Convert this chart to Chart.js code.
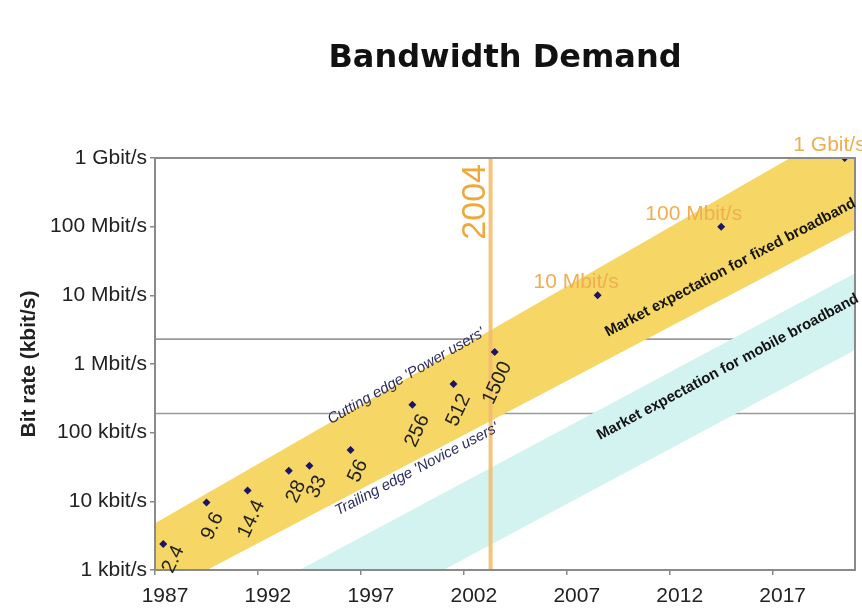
<!DOCTYPE html>
<html>
<head>
<meta charset="utf-8">
<script src="https://cdn.jsdelivr.net/npm/chart.js@4.4.1/dist/chart.umd.min.js"></script>
<style>
  html, body { margin: 0; padding: 0; background: #fff; }
</style>
</head>
<body>
<canvas id="myChart" width="862" height="616"></canvas>
<script>
// axes
const xTicks = [1987, 1992, 1997, 2002, 2007, 2012, 2017]
const yTicks = [1, 10, 100, 1000, 10000, 100000, 1000000]
const yTickLabels = ['1 kbit/s', '10 kbit/s', '100 kbit/s', '1 Mbit/s', '10 Mbit/s', '100 Mbit/s', '1 Gbit/s']

// modems (kbit/s)
const modemYears = [1987.4, 1989.5, 1991.5, 1993.5, 1994.5, 1996.5, 1999.5, 2001.5, 2003.5]
const modemRates = [2.4, 9.6, 14.4, 28, 33, 56, 256, 512, 1500]
const modemLabels = ['2.4', '9.6', '14.4', '28', '33', '56', '256', '512', '1500']

// paliers futurs
const milestoneYears = [2008.5, 2014.5, 2020.5]
const milestoneRates = [10000, 100000, 1000000]
const milestoneLabels = ['10 Mbit/s', '100 Mbit/s', '1 Gbit/s']

// bandes (bords, en debut et fin d'axe)
const bandYears = [1987, 2021]
const fixedTop = [4.8, 3500000]
const fixedBottom = [0.4, 91000]
const mobileTop = [0.075, 21000]
const mobileBottom = [0.0057, 1600]

const refLevels = [2300, 190]
const markerYear = 2003.3
const markerLabel = '2004'

const pts = (xs, ys) => xs.map((x, i) => ({ x: x, y: ys[i] }))

const datasets = [
  { label: 'modems', data: pts(modemYears, modemRates), order: 0,
    pointStyle: 'rectRot', pointRadius: 4, backgroundColor: '#1c1464', borderColor: '#1c1464', borderWidth: 0 },
  { label: 'milestones', data: pts(milestoneYears, milestoneRates), order: 0,
    pointStyle: 'rectRot', pointRadius: 4, backgroundColor: '#1c1464', borderColor: '#1c1464', borderWidth: 0 },
  { label: 'marker', data: [{ x: markerYear, y: 1 }, { x: markerYear, y: 1000000 }], order: 1,
    showLine: true, pointRadius: 0, borderColor: 'rgba(242,190,110,0.9)', borderWidth: 4 },
  { label: 'fixedTop', data: pts(bandYears, fixedTop), order: 3, showLine: true, pointRadius: 0,
    borderWidth: 0, borderColor: 'rgba(0,0,0,0)', fill: '+1', backgroundColor: '#f6d765' },
  { label: 'fixedBottom', data: pts(bandYears, fixedBottom), order: 3, showLine: true, pointRadius: 0,
    borderWidth: 0, borderColor: 'rgba(0,0,0,0)' },
  { label: 'mobileTop', data: pts(bandYears, mobileTop), order: 3, showLine: true, pointRadius: 0,
    borderWidth: 0, borderColor: 'rgba(0,0,0,0)', fill: '+1', backgroundColor: '#d3f3f1' },
  { label: 'mobileBottom', data: pts(bandYears, mobileBottom), order: 3, showLine: true, pointRadius: 0,
    borderWidth: 0, borderColor: 'rgba(0,0,0,0)' },
]
refLevels.forEach(v => {
  datasets.push({ label: 'ref', data: [{ x: bandYears[0], y: v }, { x: bandYears[1], y: v }], order: 5,
    showLine: true, pointRadius: 0, borderColor: '#9a9a9a', borderWidth: 1.6 })
})

// texte le long d'un bord de bande
function edgeText(chart, vals, startYear, offset, text, font, color, baseline) {
  const { ctx, scales: { x, y } } = chart
  const x0 = x.getPixelForValue(bandYears[0]), y0 = y.getPixelForValue(vals[0])
  const x1 = x.getPixelForValue(bandYears[1]), y1 = y.getPixelForValue(vals[1])
  const ang = Math.atan2(y1 - y0, x1 - x0)
  const px = x.getPixelForValue(startYear)
  const py = y0 + (px - x0) * (y1 - y0) / (x1 - x0)
  ctx.save()
  ctx.translate(px, py)
  ctx.rotate(ang)
  ctx.font = font
  ctx.fillStyle = color
  ctx.textAlign = 'left'
  ctx.textBaseline = baseline
  ctx.fillText(text, 0, offset)
  ctx.restore()
}

const decor = {
  id: 'decor',
  afterDatasetsDraw(chart) {
    const { ctx, chartArea: a, scales: { x, y } } = chart
    ctx.save()
    ctx.strokeStyle = '#8a8a8a'
    ctx.lineWidth = 2
    ctx.strokeRect(a.left, a.top, a.right - a.left, a.bottom - a.top)

    // textes des bandes
    edgeText(chart, fixedTop, 1995.5, 2, "Cutting edge 'Power users'", 'italic 15px "Liberation Sans"', '#2c2c62', 'alphabetic')
    edgeText(chart, fixedBottom, 1995.6, 1, "Trailing edge 'Novice users'", 'italic 15px "Liberation Sans"', '#2c2c62', 'top')
    edgeText(chart, fixedBottom, 2009.45, -20, 'Market expectation for fixed broadband', 'bold 15px "Liberation Sans"', '#141414', 'alphabetic')
    edgeText(chart, mobileTop, 2008.0, 27, 'Market expectation for mobile broadband', 'bold 15px "Liberation Sans"', '#141414', 'alphabetic')

    // etiquettes des modems (remontees si elles depassent l'axe)
    const m0 = chart.getDatasetMeta(0).data
    const rot = -65 * Math.PI / 180
    ctx.font = '20px "Liberation Sans"'
    ctx.fillStyle = '#222'
    ctx.textAlign = 'right'
    ctx.textBaseline = 'middle'
    m0.forEach((p, i) => {
      let ax = p.x + 12, ay = p.y + 11
      const len = ctx.measureText(modemLabels[i]).width
      const over = ay - len * Math.sin(rot) - (a.bottom + 2)
      if (over > 0) { ay -= over; ax += over * 0.5 }
      ctx.save()
      ctx.translate(ax, ay)
      ctx.rotate(rot)
      ctx.fillText(modemLabels[i], 0, 0)
      ctx.restore()
    })

    // paliers
    const m1 = chart.getDatasetMeta(1).data
    ctx.font = '21px "Liberation Sans"'
    ctx.fillStyle = '#efae52'
    ctx.textAlign = 'right'
    ctx.textBaseline = 'alphabetic'
    m1.forEach((p, i) => {
      ctx.fillText(milestoneLabels[i], p.x + 21, p.y - 7)
    })

    // 2004
    const mx = x.getPixelForValue(markerYear)
    ctx.save()
    ctx.translate(mx - 6, a.top + 6)
    ctx.rotate(-Math.PI / 2)
    ctx.font = '34px "Liberation Sans"'
    ctx.fillStyle = '#eea93a'
    ctx.textAlign = 'right'
    ctx.textBaseline = 'alphabetic'
    ctx.fillText(markerLabel, 0, 0)
    ctx.restore()

    // titre
    ctx.font = 'bold 32px "DejaVu Sans"'
    ctx.fillStyle = '#111'
    ctx.textAlign = 'center'
    ctx.textBaseline = 'middle'
    ctx.fillText('Bandwidth Demand', (a.left + a.right) / 2, 59)
    ctx.restore()
  }
}

const ctx = document.getElementById('myChart')
new Chart(ctx, {
  type: 'scatter',
  data: { datasets: datasets },
  plugins: [decor],
  options: {
    responsive: false,
    animation: false,
    layout: { padding: { top: 158, right: 7, left: 0, bottom: 0 } },
    plugins: {
      legend: { display: false },
      tooltip: { enabled: false },
      title: { display: false },
    },
    scales: {
      x: {
        type: 'linear',
        min: 1987,
        max: 2021,
        afterBuildTicks: s => { s.ticks = xTicks.map(v => ({ value: v })) },
        afterFit: s => { s.height = 46 },
        grid: { display: true, drawOnChartArea: false, drawTicks: true, tickLength: 5, color: '#888', lineWidth: 1.5 },
        border: { display: false },
        ticks: {
          autoSkip: false, maxRotation: 0, labelOffset: 10, padding: 9, color: '#222',
          font: { family: '"Liberation Sans"', size: 21 },
          callback: v => String(v),
        },
      },
      y: {
        type: 'logarithmic',
        min: 1,
        max: 1000000,
        afterBuildTicks: s => { s.ticks = yTicks.map(v => ({ value: v })) },
        afterFit: s => { s.width = 155 },
        grid: { display: true, drawOnChartArea: false, drawTicks: true, tickLength: 5, color: '#888', lineWidth: 1.5 },
        border: { display: false },
        ticks: {
          autoSkip: false, padding: 3, color: '#222',
          font: { family: '"Liberation Sans"', size: 21 },
          callback: (v, i) => yTickLabels[i],
        },
        title: {
          display: true,
          text: 'Bit rate (kbit/s)',
          color: '#222',
          font: { family: '"Liberation Sans"', size: 21, weight: 'bold' },
          padding: { top: 17, bottom: 0 },
        },
      },
    },
  },
})
</script>
</body>
</html>
